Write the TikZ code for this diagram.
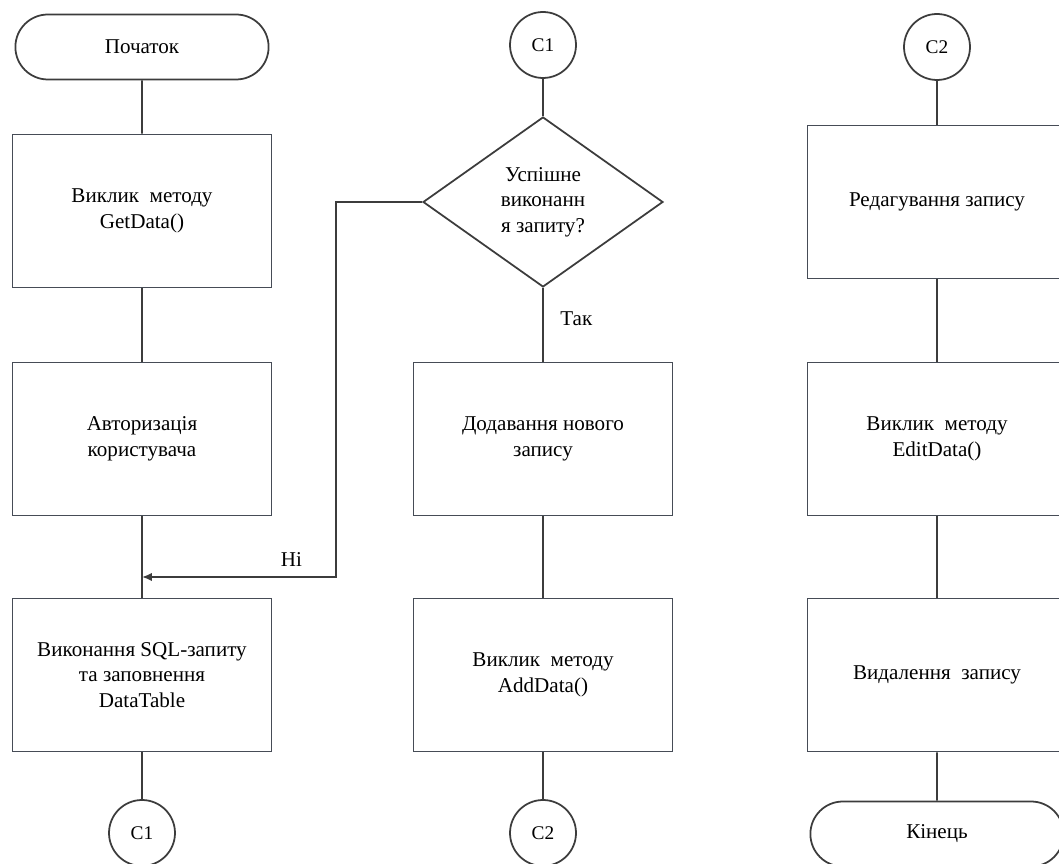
\documentclass[tikz,border=0pt]{standalone}
\usepackage{fontspec}
\setmainfont{Liberation Serif}
\usetikzlibrary{
    arrows.meta,
    positioning,
    shapes.geometric,
    shapes.misc
}

\definecolor{linegray}{HTML}{3C3C3C}
\definecolor{boxgray}{HTML}{464C56}

\begin{document}
\begin{tikzpicture}[
    x=0.02cm, y=-0.02cm,
    >={Latex[length=2mm,width=1.7mm]},
    font=\fontsize{12}{14.5}\selectfont,
    line width=1pt,
    box/.style={
        draw=boxgray,
        fill=white,
        align=center,
        inner sep=4pt,
        minimum width=5.18cm,
        minimum height=3.06cm
    },
    term/.style={draw=linegray, rounded rectangle, fill=white,
        minimum width=5.3cm, minimum height=1.3cm},
    conn/.style={draw=linegray, circle, fill=white, inner sep=0pt,
        minimum size=1.32cm, font=\fontsize{11}{12}\selectfont},
    decision/.style={draw=linegray, diamond, fill=white, align=center,
        inner sep=0pt, minimum width=4.8cm, minimum height=3.4cm},
    link/.style={draw=linegray},
    arrow/.style={link, ->}
]

\def\xa{142}
\def\xb{543}
\def\xc{937}

\useasboundingbox (0,0) rectangle (1059,864);

% ============================================================
% LEFT COLUMN
% ============================================================

\node[term] (start) at (\xa,47) {Початок};
\node[box] (getdata) at (\xa,211) {Виклик\ \ методу\\GetData()};
\node[box] (auth) at (\xa,439) {Авторизація\\користувача};
\node[box] (sql) at (\xa,675) {Виконання SQL-запиту\\та заповнення\\DataTable};
\node[conn] (c1out) at (\xa,833) {C1};

\coordinate (nojoin) at (\xa,577);

\draw[link] (start) -- (getdata);
\draw[link] (getdata) -- (auth);
\draw[link] (auth) -- (sql);
\draw[link] (sql) -- (c1out);

% ============================================================
% MIDDLE COLUMN
% ============================================================

\node[conn] (c1in) at (\xb,45) {C1};
\node[decision] (check) at (\xb,202) {Успішне\\виконанн\\я запиту?};
\node[box] (add) at (\xb,439) {Додавання нового\\запису};
\node[box] (adddata) at (\xb,675) {Виклик\ \ методу\\AddData()};
\node[conn] (c2out) at (\xb,833) {C2};

\draw[link] (c1in) -- (check);
\draw[link] (check) -- node[right=6pt, pos=0.42] {Так} (add);
\draw[link] (add) -- (adddata);
\draw[link] (adddata) -- (c2out);

\draw[arrow] (check.west) -- ++(-86,0) |- node[above, pos=0.615, yshift=2pt] {Ні} (nojoin);

% ============================================================
% RIGHT COLUMN
% ============================================================

\node[conn] (c2in) at (\xc,47) {C2};
\node[box] (edit) at (\xc,202) {Редагування запису};
\node[box] (editdata) at (\xc,439) {Виклик\ \ методу\\EditData()};
\node[box] (del) at (\xc,675) {Видалення\ \ запису};
\node[term] (finish) at (\xc,834) {Кінець};

\draw[link] (c2in) -- (edit);
\draw[link] (edit) -- (editdata);
\draw[link] (editdata) -- (del);
\draw[link] (del) -- (finish);

\end{tikzpicture}
\end{document}
